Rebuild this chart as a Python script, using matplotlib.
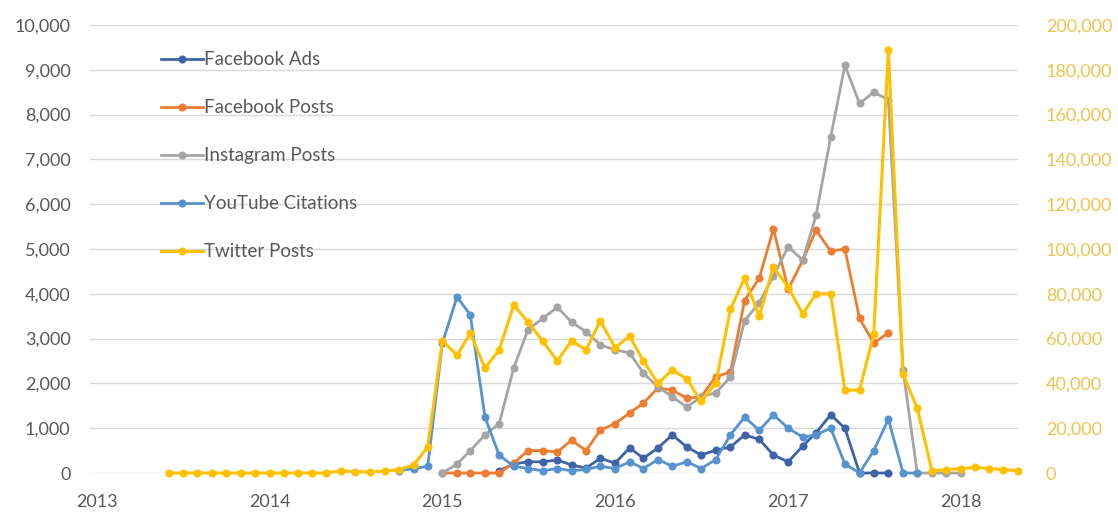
import matplotlib.pyplot as plt
import matplotlib.dates as mdates
import numpy as np
import pandas as pd
from datetime import datetime

plt.rcParams['font.family'] = ['Lato', 'DejaVu Sans']

# meses de jun/2013 a mai/2018
meses = pd.date_range('2013-06-01', '2018-05-01', freq='MS')
nan = np.nan

facebook_ads = [nan] * 23 + [
    50, 200, 250, 250, 290, 180, 110, 330, 220, 560, 330, 560, 850, 580,
    400, 510, 580, 850, 750, 400, 250, 600, 900, 1300, 1000, 0, 0, 0,
] + [nan] * 9

facebook_posts = [nan] * 19 + [
    0, 0, 0, 0, 0, 220, 500, 500, 470, 730, 500, 960, 1100, 1340, 1560,
    1900, 1850, 1670, 1700, 2150, 2250, 3850, 4350, 5450, 4100, 4750,
    5420, 4950, 5000, 3450, 2900, 3130,
] + [nan] * 9

instagram_posts = [nan] * 19 + [
    0, 200, 500, 850, 1100, 2350, 3200, 3450, 3700, 3370, 3150, 2860,
    2750, 2680, 2230, 1920, 1700, 1470, 1700, 1790, 2140, 3400, 3800,
    4400, 5050, 4750, 5750, 7500, 9100, 8250, 8500, 8330, 2300, 0,
    0, 0, 0,
] + [nan] * 4

youtube_citations = [nan] * 16 + [
    50, 100, 150, 2900, 3930, 3530, 1250, 400, 150, 100, 50, 100, 50, 80,
    150, 100, 250, 100, 300, 150, 250, 100, 300, 850, 1250, 950, 1300,
    1000, 800, 850, 1000, 200, 0, 500, 1200, 0, 0,
] + [nan] * 7

twitter_posts = [
    0, 0, 0, 0, 0, 0, 0, 0, 0, 0, 0, 0,
    1000, 500, 500, 800, 1500, 3500, 11600,
    59000, 52600, 62400, 46800, 54900, 75000, 67400, 59000, 50000, 59000,
    55000, 68000, 56000, 61000, 50000, 40000, 46000, 42000, 32000, 40000,
    73000, 87000, 70000, 92000, 83000, 71000, 80000, 80000, 37000, 37000,
    62000, 189000, 44000, 29000,
    1000, 1500, 2000, 2500, 2000, 1500, 1000,
]

series_esq = [
    ('Facebook Ads', facebook_ads, '#3F63A8'),
    ('Facebook Posts', facebook_posts, '#ED7D31'),
    ('Instagram Posts', instagram_posts, '#A5A5A5'),
    ('YouTube Citations', youtube_citations, '#5693CF'),
]

fig = plt.figure(figsize=(11.18, 5.15), dpi=100)
ax = fig.add_axes([90 / 1118, 42 / 515, 928 / 1118, 448 / 515])
ax2 = ax.twinx()

for nome, valores, cor in series_esq:
    ax.plot(meses, valores, color=cor, linewidth=2, marker='o', markersize=4.8,
            clip_on=False, label=nome)
ax2.plot(meses, twitter_posts, color='#FFC000', linewidth=2.2, marker='o',
         markersize=4.8, clip_on=False, label='Twitter Posts')

ax.set_ylim(0, 10000)
ax.set_yticks(range(0, 10001, 1000))
ax.yaxis.set_major_formatter(plt.FuncFormatter(lambda v, p: f'{v:,.0f}'))
ax2.set_ylim(0, 200000)
ax2.set_yticks(range(0, 200001, 20000))
ax2.yaxis.set_major_formatter(plt.FuncFormatter(lambda v, p: f'{v:,.0f}'))

ax.set_xlim(datetime(2012, 12, 17), datetime(2018, 5, 2))
ax.xaxis.set_major_locator(mdates.YearLocator())
ax.xaxis.set_major_formatter(mdates.DateFormatter('%Y'))

ax.grid(axis='y', color='#d9d9d9', linewidth=1)
ax.set_axisbelow(True)
for a in (ax, ax2):
    for s in a.spines.values():
        s.set_visible(False)

ax.tick_params(axis='y', length=0, labelsize=13, labelcolor='#595959', pad=14)
ax.tick_params(axis='x', length=0, labelsize=13, labelcolor='#595959', pad=15)
ax2.tick_params(axis='y', length=0, labelsize=13, labelcolor='#EDC34F', pad=20)

h1, l1 = ax.get_legend_handles_labels()
h2, l2 = ax2.get_legend_handles_labels()
fig.legend(h1 + h2, l1 + l2, loc='upper left', bbox_to_anchor=(152 / 1118, 1 - 42 / 515),
           frameon=False, fontsize=13.5, labelspacing=1.65, handlelength=2.2,
           handletextpad=0.1, borderpad=0, labelcolor='#595959')

fig.savefig('out.png', dpi=100)
